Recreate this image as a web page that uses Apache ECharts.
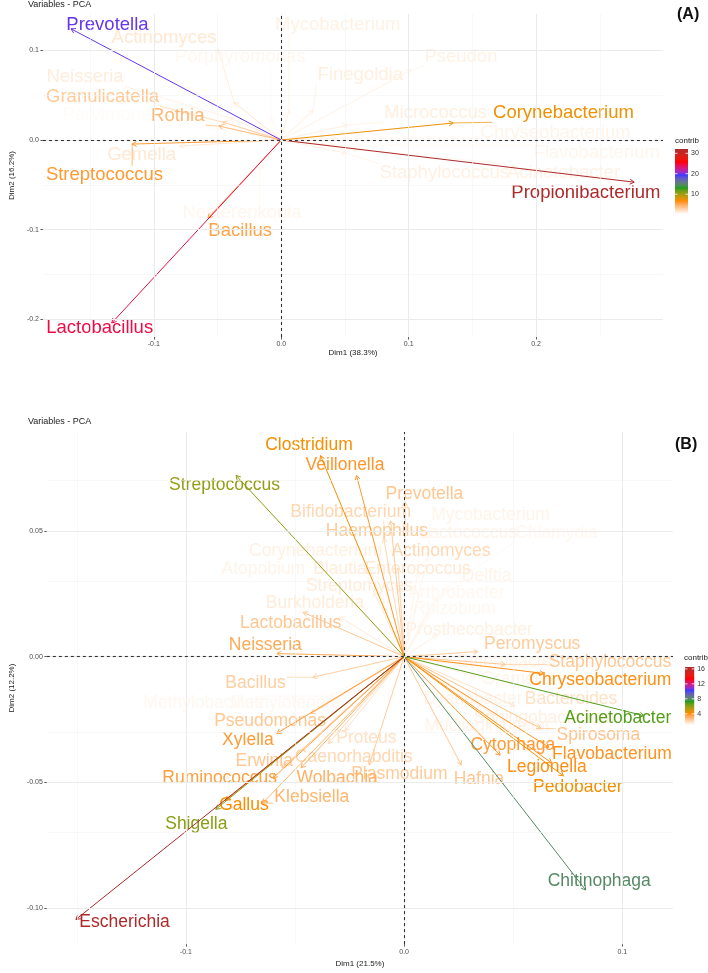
<!DOCTYPE html>
<html><head><meta charset="utf-8">
<script src="https://cdn.jsdelivr.net/npm/echarts@6/dist/echarts.min.js"></script>
<style>html,body{margin:0;padding:0;background:#fff}#c{width:708px;height:973px}</style>
</head><body><div id="c"></div>
<script>
// ---------------- Panel A data ----------------
const namesA = ['Prevotella','Lactobacillus','Propionibacterium','Corynebacterium','Streptococcus','Bacillus','Rothia','Granulicatella','Neisseria','Actinomyces','Gemella','Mycobacterium','Porphyromonas','Pseudon','Finegoldia','Micrococcus','Staphylococcus','Acinetobacter','Chryseobacterium','Flavobacterium','Nesterenkonia','Paenibacillus','Parvimonas'];
const dim1A = [-0.165,-0.133,0.277,0.135,-0.117,-0.0575,-0.049,-0.046,-0.040,-0.037,-0.0797,0.006,-0.008,0.102,0.025,0.052,0.051,0.060,0.044,0.041,-0.017,-0.0245,-0.0245];
const dim2A = [0.124,-0.204,-0.047,0.019,-0.0045,-0.087,0.0156,0.020,0.0245,0.042,-0.0067,0.033,0.0245,0.078,0.033,0.0167,-0.0145,-0.011,0.002,-0.0056,-0.033,-0.028,0.009];
const contribA = [19.8,24.4,32.1,7.3,5.9,5.4,4.2,3.2,1.3,1.6,1.5,1.0,0.7,1.0,1.2,1.2,1.1,1.0,0.9,0.8,0.8,0.3,0.5];
const labelDim1A = [-0.1364,-0.1425,0.2391,0.2215,-0.1387,-0.0322,-0.0812,-0.1402,-0.154,-0.092,-0.1096,0.0444,-0.0322,0.141,0.062,0.1211,0.128,0.2215,0.2153,0.2475,-0.0307,-0.1019,-0.1333];
const labelDim2A = [0.1282,-0.2096,-0.0591,0.0301,-0.039,-0.1014,0.0268,0.0479,0.0702,0.1137,-0.0167,0.1282,0.0925,0.0925,0.0725,0.0301,-0.0368,-0.0368,0.0078,-0.0145,-0.0814,-0.1026,0.0279];
const ticksAx = [-0.1, 0, 0.1, 0.2];
const ticksAy = [-0.2, -0.1, 0, 0.1];
const minorAx = [-0.15, -0.05, 0.05, 0.15, 0.25];
const minorAy = [-0.15, -0.05, 0.05];
const legendTicksA = [10, 20, 30];

// ---------------- Panel B data ----------------
const namesB = ['Escherichia','Chitinophaga','Streptococcus','Shigella','Acinetobacter','Clostridium','Veillonella','Gallus','Pedobacter','Legionella','Flavobacterium','Cytophaga','Chryseobacterium','Spirosoma','Staphylococcus','Peromyscus','Neisseria','Lactobacillus','Bacillus','Xylella','Pseudomonas','Erwinia','Ruminococcus','Wolbachia','Klebsiella','Caenorhabditis','Proteus','Plasmodium','Hafnia','Prevotella','Haemophilus','Bifidobacterium','Actinomyces','Corynebacterium','Mycobacterium','Lactococcus','Chlamydia','Atopobium','Blautia','Enterococcus','Streptomyces','Delftia','Arthrobacter','Rhizobium','Burkholderia','Prosthecobacter','Enterobacter','Gramella','Dyadobacter','Bacteroides','Sphingobacterium','Mucilaginibacter','Methylobacillus','Methylotenera','Salmonella'];
const dim1B = [-0.1504,0.0832,-0.077,-0.0863,0.1099,-0.0383,-0.0218,-0.0819,0.073,0.0676,0.0663,0.044,0.0641,0.0627,0.0463,0.0338,-0.0583,-0.0463,-0.0418,-0.0583,-0.0427,-0.056,-0.060,-0.0472,-0.0649,-0.0347,-0.0271,-0.016,0.0262,0.0004,-0.0062,-0.0093,-0.0027,-0.016,0.0107,0.0062,0.0196,-0.0249,-0.0138,-0.0018,-0.0093,0.0151,0.0107,0.0085,-0.0294,0.0151,0.024,0.0329,0.0196,0.0507,0.0418,0.024,-0.0338,-0.0227,-0.0294];
const dim2B = [-0.1045,-0.0928,0.072,-0.0607,-0.0235,0.0799,0.072,-0.0572,-0.0474,-0.0423,-0.036,-0.0392,-0.0067,-0.0286,-0.0031,0.002,0.0012,0.0176,-0.0082,-0.0305,-0.0227,-0.0442,-0.0482,-0.0442,-0.0583,-0.0345,-0.0294,-0.0431,-0.0431,0.0615,0.054,0.047,0.0352,0.0352,0.0392,0.0333,0.0274,0.0235,0.0255,0.0274,0.0196,0.0235,0.0176,0.0137,0.0157,0.0086,-0.0031,-0.0078,-0.0117,-0.0196,-0.0235,-0.0254,-0.0157,-0.0137,-0.0204];
const contribB = [16.5,8.0,5.95,6.1,6.8,4.3,3.8,4.15,4.3,4.0,3.9,3.7,4.0,2.6,2.5,2.4,3.3,2.5,2.3,3.7,2.5,2.5,3.6,3.1,3.0,2.05,1.8,2.4,2.5,2.5,2.4,2.1,2.05,1.4,1.3,1.3,1.2,1.3,1.5,1.6,1.5,1.3,1.2,1.2,1.5,1.4,1.3,1.3,1.3,1.8,1.4,1.3,1.2,1.2,1.0];
const labelDim1B = [-0.1281,0.0894,-0.0823,-0.0952,0.0979,-0.0436,-0.0271,-0.0734,0.0796,0.0654,0.0952,0.0498,0.0899,0.089,0.0943,0.0587,-0.0636,-0.052,-0.0681,-0.0716,-0.0614,-0.0641,-0.0845,-0.0307,-0.0423,-0.0231,-0.0173,-0.0022,0.0343,0.0093,-0.0125,-0.0245,0.0169,-0.0405,0.0396,0.0294,0.0698,-0.0645,-0.0294,0.0062,-0.0205,0.0378,0.024,0.0231,-0.0409,0.0298,0.0472,0.0516,0.0316,0.0765,0.0641,0.0383,-0.0921,-0.0543,-0.105];
const labelDim2B = [-0.1057,-0.0893,0.0681,-0.0666,-0.0243,0.0842,0.076,-0.0591,-0.0521,-0.0439,-0.0388,-0.0352,-0.0094,-0.0313,-0.0023,0.0051,0.0047,0.0133,-0.0106,-0.0333,-0.0258,-0.0415,-0.0482,-0.0482,-0.056,-0.0399,-0.0325,-0.0466,-0.0489,0.0646,0.0497,0.0576,0.0419,0.0419,0.0564,0.0489,0.0489,0.0348,0.0348,0.0348,0.0282,0.0321,0.0251,0.0188,0.0211,0.0106,-0.0023,-0.009,-0.0168,-0.0168,-0.0243,-0.0278,-0.0184,-0.0184,-0.0254];
const ticksBx = [-0.1, 0, 0.1];
const ticksBy = [-0.1, -0.05, 0, 0.05];
const minorBx = [-0.15, -0.05, 0.05];
const minorBy = [-0.075, -0.025, 0.025, 0.075];
const legendTicksB = [4, 8, 12, 16];

// ---------------- helpers ----------------
const FONT = '"Liberation Sans", Arial, Helvetica, sans-serif';
const gradientColors = ['#FFFFFF', '#FF8C00', '#1E9E1E', '#3A3AFF', '#FF0000', '#AE2A2A'];
function hexToRgb(h) { const n = parseInt(h.slice(1), 16); return [(n >> 16) & 255, (n >> 8) & 255, n & 255]; }
function lin(c) { c /= 255; return c <= 0.04045 ? c / 12.92 : Math.pow((c + 0.055) / 1.055, 2.4); }
function gam(c) { c = c <= 0.0031308 ? 12.92 * c : 1.055 * Math.pow(c, 1 / 2.4) - 0.055; return Math.round(Math.max(0, Math.min(1, c)) * 255); }
const XN = 0.95047, YN = 1, ZN = 1.08883;
function fLab(t) { return t > 0.008856 ? Math.cbrt(t) : 7.787 * t + 16 / 116; }
function fInv(t) { return t > 0.206893 ? t * t * t : (t - 16 / 116) / 7.787; }
function rgbToLab(rgb) {
  const r = lin(rgb[0]), g = lin(rgb[1]), b = lin(rgb[2]);
  const X = (0.4124 * r + 0.3576 * g + 0.1805 * b) / XN, Y = (0.2126 * r + 0.7152 * g + 0.0722 * b) / YN, Z = (0.0193 * r + 0.1192 * g + 0.9505 * b) / ZN;
  const fx = fLab(X), fy = fLab(Y), fz = fLab(Z);
  return [116 * fy - 16, 500 * (fx - fy), 200 * (fy - fz)];
}
function labToRgb(lab) {
  const fy = (lab[0] + 16) / 116, fx = fy + lab[1] / 500, fz = fy - lab[2] / 200;
  const X = fInv(fx) * XN, Y = fInv(fy) * YN, Z = fInv(fz) * ZN;
  const r = 3.2406 * X - 1.5372 * Y - 0.4986 * Z, g = -0.9689 * X + 1.8758 * Y + 0.0415 * Z, b = 0.0557 * X - 0.2040 * Y + 1.0570 * Z;
  return [gam(r), gam(g), gam(b)];
}
const gradLab = gradientColors.map(c => rgbToLab(hexToRgb(c)));
function colorAt(v, lo, hi) {
  let t = (v - lo) / (hi - lo); t = Math.max(0, Math.min(1, t));
  const n = gradLab.length - 1; const s = t * n; let i = Math.floor(s); if (i >= n) i = n - 1;
  const f = s - i; const a = gradLab[i], b = gradLab[i + 1];
  const rgb = labToRgb(a.map((c, k) => c + (b[k] - c) * f));
  return 'rgb(' + rgb.join(',') + ')';
}
const mctx = document.createElement('canvas').getContext('2d');
function textWidth(t, size) { mctx.font = size + 'px ' + FONT; return mctx.measureText(t).width; }

function panelSeries(names, d1, d2, contrib, l1, l2, gi, fontSize) {
  const lo = Math.min(...contrib), hi = Math.max(...contrib);
  const order = names.map((_, i) => i).sort((a, b) => contrib[a] - contrib[b]);
  const data = order.map(i => [d1[i], d2[i], l1[i], l2[i], contrib[i], i]);
  const arrows = {
    type: 'custom', xAxisIndex: gi, yAxisIndex: gi, data, z: 4, silent: true, animation: false,
    encode: { x: [0, 2], y: [1, 3] },
    renderItem: (params, api) => {
      const p0 = api.coord([0, 0]);
      const p1 = api.coord([api.value(0), api.value(1)]);
      const col = colorAt(api.value(4), lo, hi);
      const ang = Math.atan2(p1[1] - p0[1], p1[0] - p0[0]);
      const L = 5, a = Math.PI / 6;
      const h1 = [p1[0] - L * Math.cos(ang - a), p1[1] - L * Math.sin(ang - a)];
      const h2 = [p1[0] - L * Math.cos(ang + a), p1[1] - L * Math.sin(ang + a)];
      return { type: 'group', children: [
        { type: 'line', shape: { x1: p0[0], y1: p0[1], x2: p1[0], y2: p1[1] }, style: { stroke: col, lineWidth: 1 } },
        { type: 'polyline', shape: { points: [h1, p1, h2] }, style: { stroke: col, lineWidth: 1, fill: null } }
      ] };
    }
  };
  const labels = {
    type: 'custom', xAxisIndex: gi, yAxisIndex: gi, data, z: 3, silent: true, animation: false,
    encode: { x: [0, 2], y: [1, 3] },
    renderItem: (params, api) => {
      const p1 = api.coord([api.value(0), api.value(1)]);
      const pl = api.coord([api.value(2), api.value(3)]);
      const col = colorAt(api.value(4), lo, hi);
      const name = names[api.value(5)];
      const w = textWidth(name, fontSize) / 2 + 1, h = fontSize * 0.5;
      const cx = Math.max(pl[0] - w, Math.min(pl[0] + w, p1[0]));
      const cy = Math.max(pl[1] - h, Math.min(pl[1] + h, p1[1]));
      const children = [];
      if (Math.hypot(cx - p1[0], cy - p1[1]) > 10) {
        children.push({ type: 'line', shape: { x1: p1[0], y1: p1[1], x2: cx, y2: cy }, style: { stroke: col, lineWidth: 0.7 } });
      }
      children.push({ type: 'text', style: { text: name, x: pl[0], y: pl[1], fill: col, font: fontSize + 'px ' + FONT, align: 'center', verticalAlign: 'middle' } });
      return { type: 'group', children };
    }
  };
  return { arrows, labels, lo, hi };
}

function gridSeries(gi, majX, minX, majY, minY) {
  const maj = { color: '#EBEBEB', width: 1, type: 'solid' };
  const mnr = { color: '#F4F4F4', width: 0.6, type: 'solid' };
  const dash = { color: '#333333', width: 1.1, type: [3, 3] };
  const d = [];
  minX.forEach(v => d.push({ xAxis: v, lineStyle: mnr }));
  minY.forEach(v => d.push({ yAxis: v, lineStyle: mnr }));
  majX.forEach(v => d.push({ xAxis: v, lineStyle: maj }));
  majY.forEach(v => d.push({ yAxis: v, lineStyle: maj }));
  d.push({ xAxis: 0, lineStyle: dash });
  d.push({ yAxis: 0, lineStyle: dash });
  return { type: 'line', xAxisIndex: gi, yAxisIndex: gi, data: [], z: 1, silent: true, animation: false,
    markLine: { silent: true, symbol: ['none', 'none'], label: { show: false }, animation: false, data: d } };
}

function legendSeries(gi, lo, hi, ticks) {
  const N = 40, stops = [];
  for (let k = 0; k <= N; k++) stops.push({ offset: k / N, color: colorAt(lo + (hi - lo) * k / N, lo, hi) });
  return { type: 'custom', xAxisIndex: gi, yAxisIndex: gi, data: [[0.5, (lo + hi) / 2]], silent: true, animation: false, z: 2,
    renderItem: (params, api) => {
      const tl = api.coord([0, hi]), br = api.coord([1, lo]);
      const ch = [{ type: 'rect', shape: { x: tl[0], y: tl[1], width: br[0] - tl[0], height: br[1] - tl[1] },
        style: { fill: new echarts.graphic.LinearGradient(0, 1, 0, 0, stops) } }];
      ticks.forEach(t => {
        const y = api.coord([0, t])[1];
        ch.push({ type: 'line', shape: { x1: tl[0], y1: y, x2: tl[0] + 2.5, y2: y }, style: { stroke: '#fff', lineWidth: 0.8 } });
        ch.push({ type: 'line', shape: { x1: br[0] - 2.5, y1: y, x2: br[0], y2: y }, style: { stroke: '#fff', lineWidth: 0.8 } });
      });
      return { type: 'group', children: ch };
    } };
}

function mainAxis(dim, gi, min, max, ticks, name, dec, gap) {
  return { type: 'value', gridIndex: gi, min, max, name, nameLocation: 'middle', nameGap: gap,
    nameTextStyle: { fontSize: 8, color: '#1a1a1a', fontFamily: FONT },
    axisLine: { show: false, onZero: false },
    axisTick: { show: true, customValues: ticks, length: 2.5, lineStyle: { color: '#333', width: 0.8 } },
    axisLabel: { customValues: ticks, formatter: v => (Math.abs(v) < 1e-9 ? 0 : v).toFixed(dec), fontSize: 7, color: '#4D4D4D', margin: 4, fontFamily: FONT },
    splitLine: { show: false } };
}
function legendAxisY(gi, lo, hi, ticks) {
  return { type: 'value', gridIndex: gi, min: lo, max: hi, position: 'right',
    axisLine: { show: false, onZero: false }, axisTick: { show: false }, splitLine: { show: false },
    axisLabel: { customValues: ticks, fontSize: 7, color: '#333', margin: 3, fontFamily: FONT } };
}
function legendAxisX(gi) {
  return { type: 'value', gridIndex: gi, min: 0, max: 1, show: false };
}

const A = panelSeries(namesA, dim1A, dim2A, contribA, labelDim1A, labelDim2A, 0, 18.5);
const B = panelSeries(namesB, dim1B, dim2B, contribB, labelDim1B, labelDim2B, 1, 17.5);

const chart = echarts.init(document.getElementById('c'), null, { renderer: 'canvas' });
chart.setOption({
  animation: false,
  backgroundColor: '#fff',
  title: [
    { text: 'Variables - PCA', left: 28, top: 0, padding: 0, textStyle: { fontSize: 9, fontWeight: 'normal', color: '#222', fontFamily: FONT } },
    { text: '(A)', left: 677, top: 7, padding: 0, textStyle: { fontSize: 16, fontWeight: 'bold', color: '#111', fontFamily: FONT } },
    { text: 'contrib', left: 675, top: 137, padding: 0, textStyle: { fontSize: 8, fontWeight: 'normal', color: '#222', fontFamily: FONT } },
    { text: 'Variables - PCA', left: 28, top: 417, padding: 0, textStyle: { fontSize: 9, fontWeight: 'normal', color: '#222', fontFamily: FONT } },
    { text: '(B)', left: 675, top: 437, padding: 0, textStyle: { fontSize: 16, fontWeight: 'bold', color: '#111', fontFamily: FONT } },
    { text: 'contrib', left: 684, top: 654, padding: 0, textStyle: { fontSize: 8, fontWeight: 'normal', color: '#222', fontFamily: FONT } }
  ],
  grid: [
    { left: 28, top: 14, width: 635, height: 323 },
    { left: 28, top: 432, width: 645, height: 520 },
    { left: 675, top: 149, width: 13, height: 65 },
    { left: 685, top: 667, width: 12, height: 58 }
  ],
  xAxis: [
    mainAxis('x', 0, -0.187, 0.2996, ticksAx, 'Dim1 (38.3%)', 1, 12),
    mainAxis('x', 1, -0.1637, 0.1232, ticksBx, 'Dim1 (21.5%)', 1, 12),
    legendAxisX(2), legendAxisX(3)
  ],
  yAxis: [
    mainAxis('y', 0, -0.2196, 0.1405, ticksAy, 'Dim2 (16.2%)', 1, 17),
    mainAxis('y', 1, -0.1143, 0.0893, ticksBy, 'Dim2 (12.2%)', 2, 17),
    legendAxisY(2, A.lo, A.hi, legendTicksA), legendAxisY(3, B.lo, B.hi, legendTicksB)
  ],
  series: [
    gridSeries(0, ticksAx, minorAx, ticksAy, minorAy),
    gridSeries(1, ticksBx, minorBx, ticksBy, minorBy),
    A.labels, A.arrows, B.labels, B.arrows,
    legendSeries(2, A.lo, A.hi, legendTicksA),
    legendSeries(3, B.lo, B.hi, legendTicksB)
  ]
});
</script></body></html>
